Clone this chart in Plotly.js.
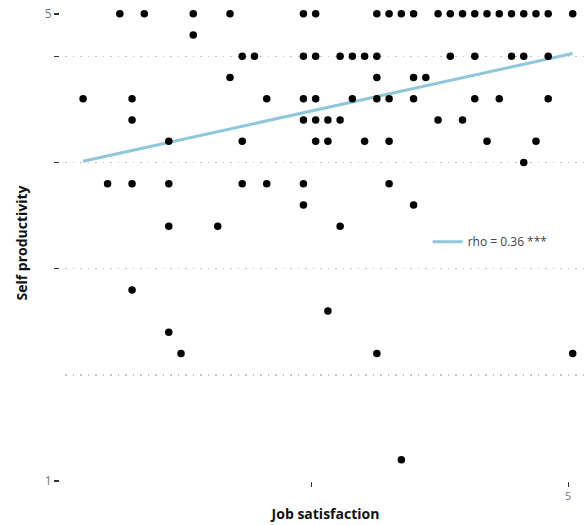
<!DOCTYPE html>
<html>
<head>
<meta charset="utf-8">
<script src="https://cdn.plot.ly/plotly-3.0.1.min.js"></script>
<style>html,body{margin:0;padding:0;background:#fff;}#chart{width:586px;height:525px;}</style>
</head>
<body>
<div id="chart"></div>
<script>
// Values, in scale steps (x: job-satisfaction step, y: self-productivity step; y step 0 = "1", 22 = "5")
const jobSat = [
  3,5,9,12,18,19,24,25,26,27,29,30,31,32,33,34,35,36,37,38,40,
  9,
  13,14,18,19,21,22,23,24,30,32,35,36,38,
  12,24,27,28,
  0,4,15,18,19,22,24,25,27,32,34,38,
  4,18,19,20,21,29,31,
  7,13,19,20,23,25,33,37,
  36,
  2,4,7,13,15,18,25,
  18,27,
  7,11,21,
  4,
  20,
  7,
  8,24,40,
  26
];
const selfProd = [
  22,22,22,22,22,22,22,22,22,22,22,22,22,22,22,22,22,22,22,22,22,
  21,
  20,20,20,20,20,20,20,20,20,20,20,20,20,
  19,19,19,19,
  18,18,18,18,18,18,18,18,18,18,18,18,
  17,17,17,17,17,17,17,
  16,16,16,16,16,16,16,16,
  15,
  14,14,14,14,14,14,14,
  13,13,
  12,12,12,
  9,
  8,
  7,
  6,6,6,
  1
];
// fitted line end points
const fitX = [0, 40];
const fitY = [15.06, 20.13];
const fitLabel = "rho = 0.36 ***";

// axis ticks
const yGridVals = [0, 5, 10, 15, 20];
const yTickVals = [0, 10, 15, 20, 22];
const yTickText = ["1", "", "", "", "5"];
const xTickVals = [18.62, 39.62];
const xTickText = ["", "5"];

const xRange = [-1.479, 41.087];
const yRange = [0, 22.416];

const traces = [
  {
    x: jobSat, y: selfProd, xaxis: 'x', yaxis: 'y2',
    type: 'scatter', mode: 'markers',
    marker: {color: '#000000', size: 7.5},
    showlegend: false, hoverinfo: 'x+y'
  },
  {
    x: fitX, y: fitY, xaxis: 'x', yaxis: 'y',
    type: 'scatter', mode: 'lines',
    line: {color: '#8ec6dc', width: 3},
    name: fitLabel, showlegend: true
  }
];

const layout = {
  width: 586, height: 525,
  margin: {l: 59, r: 0, t: 5, b: 44},
  paper_bgcolor: '#ffffff', plot_bgcolor: '#ffffff',
  font: {family: '"Open Sans", "Noto Sans", sans-serif', color: '#444'},
  showlegend: true,
  legend: {
    x: 0.6996, y: 0.5027, xanchor: 'left', yanchor: 'middle',
    bgcolor: 'rgba(0,0,0,0)', borderwidth: 0,
    font: {size: 12, color: '#444'}
  },
  xaxis: {
    domain: [0.0114, 1],
    range: xRange, showgrid: false, zeroline: false, showline: false,
    tickmode: 'array', tickvals: xTickVals, ticktext: xTickText,
    ticks: 'outside', ticklen: 5, tickwidth: 1, tickcolor: '#333',
    tickfont: {size: 11, color: '#777'},
    title: {text: 'Job satisfaction', font: {size: 14, color: '#111', weight: 'bold'}, standoff: 6}
  },
  yaxis: {
    range: yRange, anchor: 'x',
    showgrid: true, gridcolor: '#c4c4c4', gridwidth: 1.5, griddash: '1.5px,6px',
    zeroline: false, showline: false,
    tickmode: 'array', tickvals: yGridVals, showticklabels: false, ticks: ''
  },
  yaxis2: {
    range: yRange, overlaying: 'y', anchor: 'free', position: 0, side: 'left',
    showgrid: false, zeroline: false, showline: false,
    tickmode: 'array', tickvals: yTickVals, ticktext: yTickText,
    ticks: 'outside', ticklen: 5, tickwidth: 1.5, tickcolor: '#333',
    tickfont: {size: 12, color: '#777'},
    title: {text: 'Self productivity', font: {size: 14, color: '#111', weight: 'bold'}, standoff: 12}
  }
};

Plotly.newPlot('chart', traces, layout, {displayModeBar: false, staticPlot: true});
</script>
</body>
</html>
